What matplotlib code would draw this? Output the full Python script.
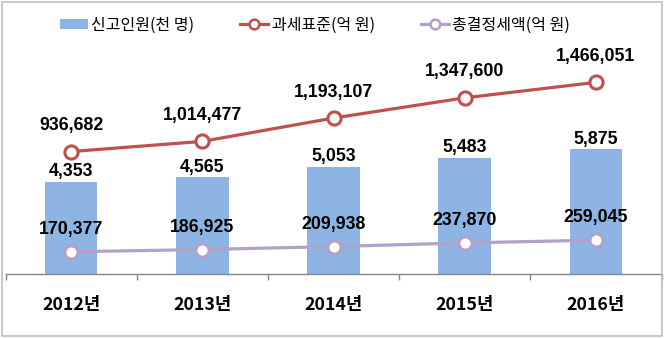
import matplotlib
matplotlib.use("Agg")
import matplotlib.pyplot as plt
from matplotlib.patches import Rectangle
from matplotlib.lines import Line2D
from matplotlib.patches import Patch

years = ["2012년", "2013년", "2014년", "2015년", "2016년"]
filers = [4353, 4565, 5053, 5483, 5875]            # 신고인원(천 명)
tax_base = [936682, 1014477, 1193107, 1347600, 1466051]  # 과세표준(억 원)
tax_total = [170377, 186925, 209938, 237870, 259045]     # 총결정세액(억 원)
legend_labels = ["신고인원(천 명)", "과세표준(억 원)", "총결정세액(억 원)"]

KR = ["Noto Sans CJK KR", "DejaVu Sans"]
NUM = ["Liberation Sans", "DejaVu Sans"]

bar_c = "#8DB4E2"
red_c = "#C0504D"
pur_c = "#B3A2C7"

W, H = 666, 339
fig = plt.figure(figsize=(W / 100, H / 100), dpi=100)

left_px, right_px = 5.5, 661.5
bottom_px, top_px = 274, 50
ax = fig.add_axes([left_px / W, (H - bottom_px) / H,
                   (right_px - left_px) / W, (bottom_px - top_px) / H])
ax2 = ax.twinx()

x = list(range(len(years)))
ax.bar(x, filers, width=0.40, color=bar_c, zorder=1)
ax.set_xlim(-0.5, len(years) - 0.5)
ax.set_ylim(0, 10564)
ax2.set_ylim(0, 1713600)

ax2.plot(x, tax_base, color=red_c, lw=2.3, marker="o", markersize=9.5,
         markerfacecolor="white", markeredgecolor=red_c, markeredgewidth=2.2, zorder=3)
ax2.plot(x, tax_total, color=pur_c, lw=2.3, marker="o", markersize=9.5,
         markerfacecolor="white", markeredgecolor=pur_c, markeredgewidth=2.2, zorder=3)

for xi, v in zip(x, filers):
    ax.annotate(f"{v:,}", (xi, v), xytext=(0, 1.0), textcoords="offset points",
                ha="center", va="bottom", fontsize=12.8, fontweight="bold", family=NUM)
for xi, v in zip(x, tax_base):
    ax2.annotate(f"{v:,}", (xi, v), xytext=(0, 12.5), textcoords="offset points",
                 ha="center", va="bottom", fontsize=12.8, fontweight="bold", family=NUM)
for xi, v in zip(x, tax_total):
    ax2.annotate(f"{v:,}", (xi, v), xytext=(0, 10), textcoords="offset points",
                 ha="center", va="bottom", fontsize=12.8, fontweight="bold", family=NUM)

for a in (ax, ax2):
    for s in ("top", "left", "right"):
        a.spines[s].set_visible(False)
    a.set_yticks([])
ax2.spines["bottom"].set_visible(False)
ax.spines["bottom"].set_color("#868686")
ax.spines["bottom"].set_linewidth(1.0)

ax.set_xticks(x)
ax.set_xticklabels(years, fontsize=12.8, fontweight="bold", family=KR)
ax.tick_params(axis="x", which="major", length=0, pad=16)
ax.set_xticks([i - 0.5 for i in range(len(years) + 1)], minor=True)
ax.tick_params(axis="x", which="minor", length=4, color="#868686", width=1.0)

handles = [Patch(facecolor=bar_c, edgecolor="none"),
           Line2D([], [], color=red_c, lw=2.3, marker="o", markersize=7,
                  markerfacecolor="white", markeredgecolor=red_c, markeredgewidth=1.8),
           Line2D([], [], color=pur_c, lw=2.3, marker="o", markersize=7,
                  markerfacecolor="white", markeredgecolor=pur_c, markeredgewidth=1.8)]
leg = fig.legend(handles, legend_labels, ncol=3, loc="center",
                 bbox_to_anchor=(315 / W, (H - 25) / H), frameon=False,
                 prop={"family": KR, "size": 11.5}, handlelength=1.75,
                 handletextpad=0.2, columnspacing=2.9, handleheight=0.6)

fig.patches.append(Rectangle((2 / W, 3 / H), 660 / W, 334 / H, transform=fig.transFigure,
                             fill=False, edgecolor="#BFBFBF", linewidth=1.2))

fig.savefig("out.png", dpi=100)
